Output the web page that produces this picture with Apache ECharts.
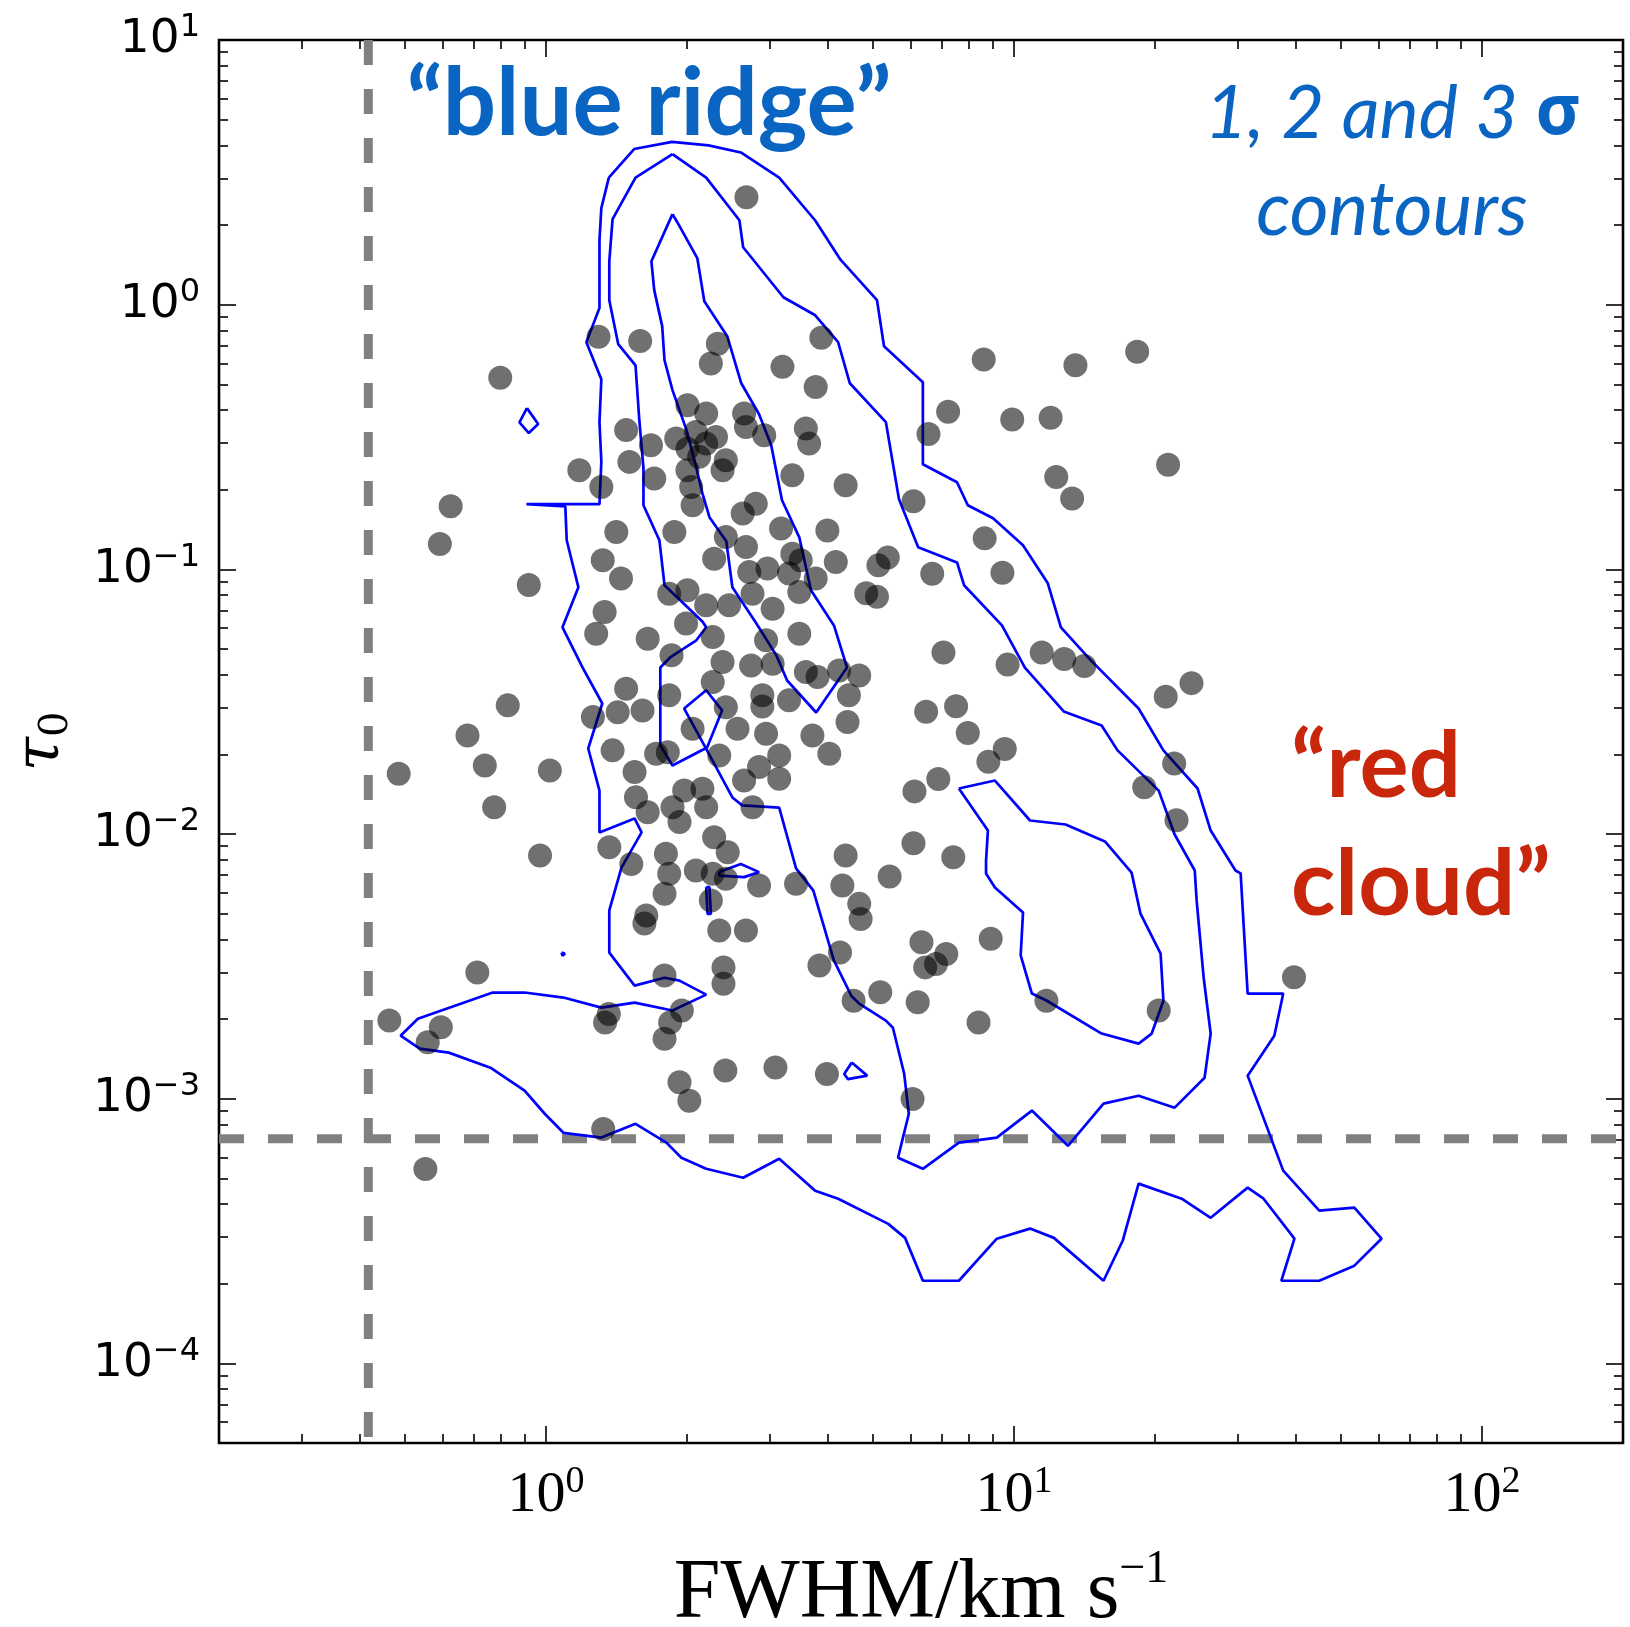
<!DOCTYPE html>
<html><head><meta charset="utf-8">
<script src="https://cdn.jsdelivr.net/npm/echarts@6/dist/echarts.min.js"></script>
<style>html,body{margin:0;padding:0;background:#fff}#chart{width:1630px;height:1627px}</style>
</head><body><div id="chart"></div>
<script>
// All chart values are in decades: log10(FWHM / km s^-1) and log10(tau_0)
const pointsLogFWHM = [0.428,0.112,0.201,0.367,0.588,-0.098,-0.204,-0.227,-0.037,-0.082,-0.168,-0.131,-0.315,0.008,-0.111,-0.013,
0.352,0.505,0.576,0.302,0.342,0.423,0.427,0.555,0.562,0.466,0.171,0.224,0.278,0.302,0.320,0.342,0.363,0.384,0.377,0.327,
0.071,0.118,0.178,0.231,0.302,0.310,0.313,0.526,0.640,0.448,0.420,0.274,0.150,0.121,0.160,0.384,0.427,0.359,0.502,0.601,
0.526,0.544,0.434,0.473,0.519,0.576,0.619,0.263,0.302,0.441,0.541,0.484,0.391,0.342,0.125,0.107,0.217,0.299,0.356,0.541,0.470,
0.268,0.377,0.438,0.484,0.171,0.100,0.153,0.206,0.263,0.356,0.384,0.462,0.462,0.519,0.555,0.580,0.626,0.669,0.647,0.644,
0.569,0.605,0.313,0.409,0.470,0.142,0.235,0.260,0.370,0.498,0.455,0.423,0.498,0.189,0.192,0.217,0.295,0.334,0.342,0.285,
0.270,0.441,0.135,0.182,0.256,0.359,0.388,0.263,0.253,0.320,0.356,0.384,0.455,0.352,0.214,0.210,0.534,0.640,0.633,0.669,
0.672,0.370,0.427,
-0.147,-0.335,-0.225,-0.253,0.134,0.126,0.253,0.290,0.265,0.253,0.379,0.379,0.285,0.306,0.383,0.490,0.600,0.122,-0.258,
0.584,0.628,0.657,
0.935,1.131,1.263,0.859,0.817,0.996,1.078,1.329,1.090,1.124,0.785,0.937,0.975,0.825,0.730,0.710,0.707,0.684,0.849,0.986,
1.059,1.107,1.150,0.812,0.876,0.901,0.980,0.945,0.838,0.787,0.785,0.870,0.734,1.324,1.379,1.342,1.278,1.347,
0.802,0.855,0.833,0.810,0.950,0.714,0.794,0.924,1.069,1.309,0.783,1.598];
const pointsLogTau = [0.406,-0.121,-0.137,-0.148,-0.125,-0.276,-0.762,-0.904,-1.059,-1.514,-1.628,-1.741,-1.772,-1.760,-1.899,-2.081,
-0.222,-0.235,-0.311,-0.380,-0.411,-0.411,-0.462,-0.468,-0.525,-0.493,-0.474,-0.531,-0.506,-0.544,-0.481,-0.525,-0.500,-0.588,-0.626,-0.575,
-0.626,-0.689,-0.594,-0.657,-0.626,-0.689,-0.758,-0.645,-0.682,-0.752,-0.789,-0.859,-0.859,-0.966,-1.035,-0.878,-0.916,-0.960,-0.846,-0.853,
-0.941,-0.966,-1.010,-0.997,-1.016,-1.035,-0.972,-1.092,-1.079,-1.092,-1.086,-1.149,-1.136,-1.136,-1.161,-1.243,-1.262,-1.205,-1.256,-1.243,-1.268,
-1.325,-1.350,-1.363,-1.357,-1.451,-1.558,-1.540,-1.533,-1.476,-1.426,-1.521,-1.476,-1.518,-1.495,-1.388,-1.407,-1.382,-1.401,-1.476,-1.577,
-1.628,-1.697,-1.602,-1.602,-1.621,-1.684,-1.697,-1.691,-1.703,-1.703,-1.747,-1.798,-1.791,-1.766,-1.861,-1.918,-1.836,-1.829,-1.899,-1.955,
-1.899,-1.899,-2.050,-2.113,-2.075,-2.012,-2.069,-2.150,-2.226,-2.138,-2.150,-2.169,-2.195,-2.251,-2.308,-2.338,-2.188,-2.081,-2.195,-2.264,
-2.321,-2.365,-2.365,
-2.523,-2.705,-2.730,-2.787,-2.680,-2.712,-2.535,-2.667,-2.712,-2.774,-2.504,-2.566,-2.938,-3.008,-2.894,-2.882,-2.907,-3.115,-3.266,
-2.497,-2.448,-2.630,
-0.207,-0.229,-0.178,-0.405,-0.489,-0.434,-0.427,-0.605,-0.651,-0.732,-0.743,-0.883,-1.013,-1.017,-0.955,-0.985,-1.104,-1.090,-1.314,-1.360,
-1.314,-1.339,-1.365,-1.538,-1.517,-1.618,-1.679,-1.727,-1.792,-1.839,-2.035,-2.088,-2.161,-1.481,-1.430,-1.734,-1.823,-1.948,
-2.409,-2.453,-2.491,-2.504,-2.396,-2.598,-2.636,-2.712,-2.630,-2.667,-3.001,-2.541];

const contourOuter = [[0.134,0.480],[0.188,0.588],[0.269,0.615],[0.347,0.602],[0.416,0.575],[0.498,0.480],[0.575,0.318],[0.629,0.170],[0.707,0.017],[0.722,-0.157],[0.805,-0.293],[0.805,-0.603],[0.878,-0.671],[0.901,-0.758],[0.955,-0.807],[1.019,-0.909],[1.072,-1.053],[1.100,-1.219],[1.164,-1.344],[1.266,-1.526],[1.319,-1.684],[1.392,-1.828],[1.420,-1.987],[1.473,-2.138],[1.484,-2.149],[1.499,-2.603],[1.575,-2.603],[1.556,-2.762],[1.499,-2.913],[1.575,-3.272],[1.652,-3.423],[1.727,-3.412],[1.785,-3.529],[1.727,-3.631],[1.652,-3.688],[1.571,-3.688],[1.599,-3.529],[1.533,-3.378],[1.499,-3.336],[1.420,-3.450],[1.358,-3.378],[1.266,-3.321],[1.232,-3.537],[1.191,-3.688],[1.085,-3.526],[1.034,-3.491],[0.963,-3.529],[0.882,-3.688],[0.805,-3.688],[0.767,-3.526],[0.731,-3.473],[0.624,-3.378],[0.575,-3.348],[0.498,-3.227],[0.421,-3.299],[0.342,-3.265],[0.289,-3.223],[0.257,-3.166],[0.191,-3.095],[0.118,-3.147],[0.037,-3.129],[-0.003,-3.057],[-0.046,-2.970],[-0.119,-2.883],[-0.208,-2.826],[-0.270,-2.811],[-0.311,-2.762],[-0.274,-2.698],[-0.114,-2.599],[-0.046,-2.599],[0.037,-2.618],[0.118,-2.656],[0.189,-2.637],[0.270,-2.667],[0.342,-2.607],[0.285,-2.554],[0.253,-2.543],[0.189,-2.573],[0.135,-2.448],[0.135,-2.289],[0.161,-2.127],[0.204,-1.994],[0.189,-1.941],[0.114,-1.994],[0.114,-1.836],[0.090,-1.677],[0.120,-1.507],[0.078,-1.371],[0.035,-1.219],[0.069,-1.068],[0.044,-0.890],[0.041,-0.762],[-0.042,-0.754],[0.114,-0.754],[0.118,-0.592],[0.114,-0.444],[0.118,-0.282],[0.086,-0.142],[0.114,-0.013],[0.114,0.244],[0.118,0.365]];
const contourMiddle = [[0.270,0.569],[0.342,0.480],[0.413,0.319],[0.421,0.217],[0.507,0.028],[0.575,-0.040],[0.624,-0.142],[0.649,-0.297],[0.726,-0.444],[0.754,-0.735],[0.795,-0.917],[0.878,-0.974],[0.893,-1.060],[0.974,-1.212],[1.023,-1.371],[1.106,-1.537],[1.187,-1.590],[1.221,-1.684],[1.309,-1.836],[1.343,-2.002],[1.386,-2.138],[1.390,-2.251],[1.405,-2.543],[1.420,-2.754],[1.407,-2.921],[1.343,-3.034],[1.266,-2.989],[1.191,-3.019],[1.115,-3.178],[1.038,-3.045],[0.963,-3.147],[0.882,-3.166],[0.805,-3.265],[0.752,-3.223],[0.775,-3.057],[0.765,-2.905],[0.741,-2.732],[0.726,-2.705],[0.669,-2.641],[0.652,-2.611],[0.615,-2.478],[0.571,-2.214],[0.534,-2.130],[0.498,-1.900],[0.419,-1.892],[0.398,-1.862],[0.338,-1.665],[0.295,-1.526],[0.342,-1.457],[0.376,-1.533],[0.344,-1.673],[0.270,-1.741],[0.244,-1.665],[0.244,-1.371],[0.265,-1.333],[0.321,-1.268],[0.342,-1.219],[0.334,-1.197],[0.253,-1.060],[0.242,-0.890],[0.208,-0.758],[0.208,-0.618],[0.199,-0.433],[0.191,-0.229],[0.154,-0.149],[0.135,0.017],[0.135,0.164],[0.142,0.323],[0.191,0.480]];
const contourInner = [[0.270,0.342],[0.285,0.297],[0.323,0.176],[0.338,0.013],[0.387,-0.119],[0.417,-0.297],[0.455,-0.414],[0.481,-0.531],[0.504,-0.739],[0.541,-0.879],[0.566,-1.079],[0.615,-1.212],[0.643,-1.371],[0.577,-1.541],[0.515,-1.420],[0.492,-1.325],[0.449,-1.204],[0.398,-1.068],[0.385,-0.894],[0.349,-0.803],[0.334,-0.713],[0.317,-0.588],[0.300,-0.474],[0.270,-0.323],[0.253,-0.210],[0.248,-0.081],[0.231,0.055],[0.225,0.164]];
const contourRedCloud = [[0.882,-1.828],[0.959,-1.798],[1.034,-1.949],[1.110,-1.964],[1.194,-2.028],[1.251,-2.146],[1.270,-2.301],[1.313,-2.452],[1.319,-2.630],[1.294,-2.754],[1.266,-2.792],[1.187,-2.754],[1.070,-2.630],[1.038,-2.603],[1.014,-2.459],[1.019,-2.297],[0.959,-2.202],[0.940,-2.149],[0.940,-2.100],[0.944,-1.987]];
const contourSmallA = [[-0.041,-0.391],[-0.017,-0.451],[-0.037,-0.485],[-0.057,-0.445]];
const contourSmallB = [[0.653,-2.863],[0.686,-2.913],[0.645,-2.926],[0.637,-2.907]];
const contourSmallC = [[0.033,-2.448],[0.040,-2.452],[0.035,-2.460]];
const contourSmallD = [[0.370,-2.144],[0.416,-2.113],[0.455,-2.144],[0.423,-2.163],[0.370,-2.157]];
const contourSmallE = [[0.342,-2.201],[0.345,-2.302],[0.352,-2.302],[0.349,-2.201]];

// axis ranges and ticks (real units)
const xRange = [0.2, 200];
const yRange = [5e-5, 10];
const xMajorExp = [0, 1, 2];
const yMajorExp = [-4, -3, -2, -1, 0, 1];
const xMinorTicks = [0.3,0.4,0.5,0.6,0.7,0.8,0.9,2,3,4,5,6,7,8,9,20,30,40,50,60,70,80,90];
const yMinorTicks = [6e-5,7e-5,8e-5,9e-5,2e-4,3e-4,4e-4,5e-4,6e-4,7e-4,8e-4,9e-4,2e-3,3e-3,4e-3,5e-3,6e-3,7e-3,8e-3,9e-3,
  0.02,0.03,0.04,0.05,0.06,0.07,0.08,0.09,0.2,0.3,0.4,0.5,0.6,0.7,0.8,0.9,2,3,4,5,6,7,8,9];
const fwhmLimit = 0.417;   // vertical dashed line, km/s
const tauLimit = 7.06e-4;  // horizontal dashed line

const BLUE = '#0a64c2', RED = '#c8270c';
const L = Math.log10;
const xMin = L(xRange[0]), xMax = L(xRange[1]), yMin = L(yRange[0]), yMax = L(yRange[1]);
const expStr = v => { const n = Math.round(v); return n < 0 ? '\u2212' + (-n) : String(n); };

function axis(kind, pos, ticks, len, label, extra) {
  const o = {
    type: 'value', position: pos,
    min: kind === 'x' ? xMin : yMin, max: kind === 'x' ? xMax : yMax,
    axisLine: {show: false, onZero: false}, splitLine: {show: false},
    axisTick: {show: true, inside: true, length: len, customValues: ticks, lineStyle: {color: '#000', width: 1.6}},
    axisLabel: label || {show: false}
  };
  return Object.assign(o, extra || {});
}
const xMinorLog = xMinorTicks.map(L), yMinorLog = yMinorTicks.map(L);

const xLabel = {
  show: true, customValues: xMajorExp, margin: 20, color: '#000',
  formatter: v => '{b|10}{s|' + expStr(v) + '}',
  rich: {
    b: {fontFamily: 'Liberation Serif', fontSize: 58, lineHeight: 66, color: '#000'},
    s: {fontFamily: 'Liberation Serif', fontSize: 38, lineHeight: 52, verticalAlign: 'top', color: '#000'}
  }
};
const yLabel = {
  show: true, customValues: yMajorExp, margin: 19, color: '#000',
  formatter: v => '{b|10}{s|' + expStr(v) + '}',
  rich: {
    b: {fontFamily: 'DejaVu Sans', fontSize: 47, lineHeight: 56, color: '#000'},
    s: {fontFamily: 'DejaVu Sans', fontSize: 32, lineHeight: 36, verticalAlign: 'top', color: '#000'}
  }
};

const closed = c => c.concat([c[0]]);
const contourSeries = [contourOuter, contourMiddle, contourInner, contourRedCloud,
  contourSmallA, contourSmallB, contourSmallC, contourSmallD, contourSmallE].map(c => ({
  type: 'line', data: closed(c), showSymbol: false, symbol: 'none', z: 2, silent: true,
  lineStyle: {color: '#0000ff', width: 2.7}, clip: true
}));

const option = {
  animation: false,
  backgroundColor: '#fff',
  grid: {left: 219, right: 7, top: 40, bottom: 184, show: true, borderColor: '#000', borderWidth: 2.6,
         backgroundColor: 'transparent', containLabel: false, outerBoundsMode: 'none'},
  xAxis: [
    axis('x', 'bottom', xMajorExp, 17, xLabel, {
      name: '{a|FWHM/km s}{s|\u22121}', nameLocation: 'middle', nameGap: 104,
      nameTextStyle: {rich: {
        a: {fontFamily: 'Liberation Serif', fontSize: 84, lineHeight: 96, color: '#000'},
        s: {fontFamily: 'Liberation Serif', fontSize: 46, lineHeight: 42, verticalAlign: 'top', color: '#000'}
      }}
    }),
    axis('x', 'bottom', xMinorLog, 9),
    axis('x', 'top', xMajorExp, 17),
    axis('x', 'top', xMinorLog, 9)
  ],
  yAxis: [
    axis('y', 'left', yMajorExp, 17, yLabel, {
      name: '{t|\u03c4}{s|0}', nameLocation: 'middle', nameGap: 142, nameRotate: 90,
      nameTextStyle: {rich: {
        t: {fontFamily: 'DejaVu Serif', fontStyle: 'italic', fontSize: 62, lineHeight: 70, color: '#000'},
        s: {fontFamily: 'DejaVu Serif', fontSize: 40, lineHeight: 40, verticalAlign: 'bottom', color: '#000'}
      }}
    }),
    axis('y', 'left', yMinorLog, 9),
    axis('y', 'right', yMajorExp, 17),
    axis('y', 'right', yMinorLog, 9)
  ],
  series: [
    {type: 'line', data: [[L(fwhmLimit), yMax], [L(fwhmLimit), yMin]], showSymbol: false, symbol: 'none', z: 1, silent: true,
     lineStyle: {color: '#808080', width: 9, type: [25, 24]}},
    {type: 'line', data: [[xMin, L(tauLimit)], [xMax, L(tauLimit)]], showSymbol: false, symbol: 'none', z: 1, silent: true,
     lineStyle: {color: '#808080', width: 9, type: [25, 24]}},
    ...contourSeries,
    {type: 'scatter', data: pointsLogFWHM.map((x, i) => [x, pointsLogTau[i]]), symbolSize: 24, z: 3, silent: true,
     itemStyle: {color: 'rgba(0,0,0,0.7)'}}
  ],
  graphic: [
    {type: 'text', x: 649, y: 105, z: 10, style: {text: '\u201cblue ridge\u201d', fontFamily: 'Lato', fontWeight: 'bold', fontSize: 94,
      fill: BLUE, align: 'center', verticalAlign: 'middle', textAlign: 'center', textVerticalAlign: 'middle'}},
    {type: 'text', x: 1393, y: 114, z: 10, style: {text: '{i|1, 2 and 3 }{g|\u03c3}', fill: BLUE,
      align: 'center', verticalAlign: 'middle', textAlign: 'center', textVerticalAlign: 'middle',
      rich: {i: {fontFamily: 'Lato', fontStyle: 'italic', fontSize: 74, fill: BLUE},
             g: {fontFamily: 'Noto Sans', fontWeight: 'bold', fontSize: 70, fill: BLUE}}}},
    {type: 'text', x: 1392, y: 211, z: 10, style: {text: 'contours', fontFamily: 'Lato', fontStyle: 'italic', fontSize: 75,
      fill: BLUE, align: 'center', verticalAlign: 'middle', textAlign: 'center', textVerticalAlign: 'middle'}},
    {type: 'text', x: 1291, y: 767, z: 10, style: {text: '\u201cred', fontFamily: 'Lato', fontWeight: 'bold', fontSize: 92,
      fill: RED, align: 'left', verticalAlign: 'middle', textAlign: 'left', textVerticalAlign: 'middle'}},
    {type: 'text', x: 1291, y: 885, z: 10, style: {text: 'cloud\u201d', fontFamily: 'Lato', fontWeight: 'bold', fontSize: 92,
      fill: RED, align: 'left', verticalAlign: 'middle', textAlign: 'left', textVerticalAlign: 'middle'}}
  ]
};
const chart = echarts.init(document.getElementById('chart'), null, {renderer: 'canvas', width: 1630, height: 1627});
chart.setOption(option);
</script></body></html>
